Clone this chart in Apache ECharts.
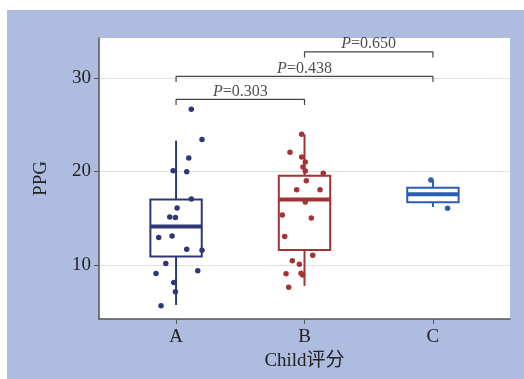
<!DOCTYPE html>
<html>
<head>
<meta charset="utf-8">
<script src="https://cdn.jsdelivr.net/npm/echarts@6/dist/echarts.min.js"></script>
<style>
  html, body { margin: 0; padding: 0; background: #fff; }
  #main { width: 524px; height: 379px; }
</style>
</head>
<body>
<div id="main"></div>
<script>
// 分组
var categories = ['A', 'B', 'C'];
var colors = ['#2f3778', '#a33434', '#2b5db3'];

// 箱线图: [min, Q1, median, Q3, max]
var boxA = [5.7, 10.9, 14.1, 17.0, 23.3];
var boxB = [7.75, 11.6, 17.0, 19.55, 23.98];
var boxC = [16.2, 16.7, 17.56, 18.27, 19.1];

// 散点 (抖动)
var ptsA = [26.68, 23.44, 21.44, 20.09, 19.98, 17.06, 16.1, 15.13, 15.06, 12.92,
            13.1, 11.68, 11.57, 10.14, 9.07, 9.36, 8.11, 7.11, 5.61];
var jitA = [0.119, 0.202, 0.099, -0.023, 0.083, 0.119, 0.008, -0.049, -0.005, -0.135,
            -0.031, 0.083, 0.202, -0.080, -0.156, 0.169, -0.018, -0.005, -0.117];
var ptsB = [23.98, 22.05, 21.55, 21.02, 20.48, 20.05, 19.8, 19.02, 18.05, 18.05,
            16.74, 15.35, 15.03, 13.03, 11.04, 10.43, 10.07, 9.04, 9.11, 8.9, 7.61];
var jitB = [-0.022, -0.113, -0.022, 0.006, -0.012, 0.006, 0.146, 0.014, -0.061, 0.121,
            0.006, -0.173, 0.053, -0.154, 0.064, -0.095, -0.040, -0.144, -0.027, -0.014, -0.123];
var ptsC = [19.1, 16.06];
var jitC = [-0.016, 0.114];

// 显著性标注
var brackets = [
  { from: 1, to: 2, y: 27.72, text: '0.303' },
  { from: 1, to: 3, y: 30.18, text: '0.438' },
  { from: 2, to: 3, y: 32.81, text: '0.650' }
];

var yTicks = [10, 20, 30];
var font = "'Liberation Serif', 'Noto Sans CJK SC', serif";

var myChart = echarts.init(document.getElementById('main'));

var boxData = [boxA, boxB, boxC].map(function (b, i) {
  return [i + 1].concat(b);
});

function jitterData(pts, jit, idx) {
  return pts.map(function (v, i) { return [idx + 1 + jit[i], v]; });
}

var series = [];

series.push({
  type: 'custom',
  name: 'box',
  z: 2,
  renderItem: function (params, api) {
    var x = api.value(0);
    var mn = api.value(1), q1 = api.value(2), md = api.value(3), q3 = api.value(4), mx = api.value(5);
    var half = 0.2;
    var c = colors[params.dataIndex];
    var tl = api.coord([x - half, q3]);
    var br = api.coord([x + half, q1]);
    var top = api.coord([x, mx]);
    var bot = api.coord([x, mn]);
    var mL = api.coord([x - half, md]);
    var mR = api.coord([x + half, md]);
    return {
      type: 'group',
      children: [
        { type: 'line', shape: { x1: top[0], y1: top[1], x2: top[0], y2: tl[1] }, style: { stroke: c, lineWidth: 2 } },
        { type: 'line', shape: { x1: bot[0], y1: bot[1], x2: bot[0], y2: br[1] }, style: { stroke: c, lineWidth: 2 } },
        { type: 'rect', shape: { x: tl[0], y: tl[1], width: br[0] - tl[0], height: br[1] - tl[1] }, style: { fill: '#fff', stroke: c, lineWidth: 2 } },
        { type: 'line', shape: { x1: mL[0], y1: mL[1], x2: mR[0], y2: mR[1] }, style: { stroke: c, lineWidth: 4 } }
      ]
    };
  },
  encode: { x: 0, y: [1, 2, 3, 4, 5] },
  data: boxData
});

[[ptsA, jitA], [ptsB, jitB], [ptsC, jitC]].forEach(function (p, i) {
  series.push({
    type: 'scatter',
    z: 3,
    symbolSize: 5.5,
    itemStyle: { color: colors[i], opacity: 1 },
    data: jitterData(p[0], p[1], i)
  });
});

brackets.forEach(function (b) {
  var leg = 0.6;
  series.push({
    type: 'line',
    z: 4,
    symbol: 'none',
    silent: true,
    lineStyle: { color: '#444', width: 1.2 },
    data: [[b.from, b.y - leg], [b.from, b.y], [b.to, b.y], [b.to, b.y - leg]]
  });
  series.push({
    type: 'scatter',
    z: 4,
    symbolSize: 0,
    silent: true,
    data: [[(b.from + b.to) / 2, b.y]],
    label: {
      show: true,
      position: 'top',
      distance: 0,
      formatter: '{i|P}{n|=' + b.text + '}',
      rich: {
        i: { fontFamily: font, fontStyle: 'italic', fontSize: 16, color: '#222' },
        n: { fontFamily: font, fontSize: 16, color: '#222' }
      }
    }
  });
});

var option = {
  animation: false,
  graphic: [{
    type: 'rect',
    z: -10,
    shape: { x: 7, y: 10, width: 517, height: 369 },
    style: { fill: '#adbcdf' }
  }],
  grid: {
    left: 99, right: 14, top: 38, bottom: 60,
    show: true, backgroundColor: '#fff', borderWidth: 0
  },
  xAxis: {
    type: 'value',
    min: 0.4, max: 3.6,
    name: 'Child评分',
    nameLocation: 'middle',
    nameGap: 33,
    nameTextStyle: { fontFamily: font, fontSize: 19, color: '#222' },
    axisLine: { show: true, onZero: false, lineStyle: { color: '#555', width: 1.5 } },
    axisTick: { show: true, length: 5, customValues: [1, 2, 3], lineStyle: { color: '#555' } },
    axisLabel: {
      customValues: [1, 2, 3],
      margin: 9,
      fontFamily: font, fontSize: 19, color: '#222',
      formatter: function (v) { return categories[Math.round(v) - 1]; }
    },
    splitLine: { show: false }
  },
  yAxis: {
    type: 'value',
    min: 4.2, max: 34.3,
    name: 'PPG',
    nameLocation: 'middle',
    nameRotate: 90,
    nameGap: 48,
    nameTextStyle: { fontFamily: font, fontSize: 19, color: '#222' },
    axisLine: { show: true, onZero: false, lineStyle: { color: '#555', width: 1.5 } },
    axisTick: { show: true, length: 5, customValues: yTicks, lineStyle: { color: '#555' } },
    axisLabel: {
      customValues: yTicks,
      margin: 8,
      fontFamily: font, fontSize: 19, color: '#222'
    },
    splitLine: { show: true, lineStyle: { color: '#e2e2e2', width: 1 } }
  },
  series: series
};

myChart.setOption(option);
</script>
</body>
</html>
